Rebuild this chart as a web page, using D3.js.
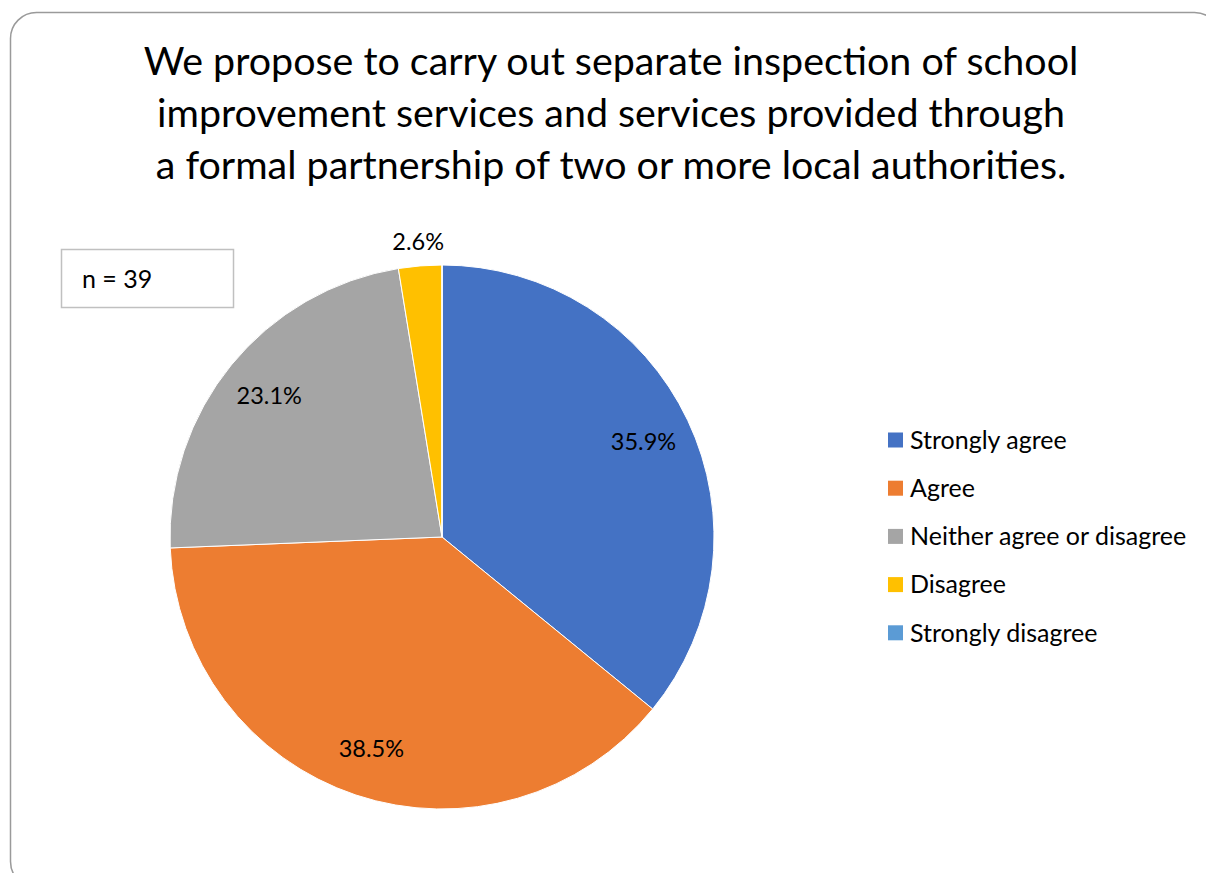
<!DOCTYPE html>
<html>
<head>
<meta charset="utf-8">
<script src="https://cdn.jsdelivr.net/npm/d3@7"></script>
<style>
  body { margin: 0; background: #fff; }
  svg text { font-family: Lato, "Open Sans", sans-serif; fill: #000; }
</style>
</head>
<body>
<script>
// survey answers (n = 39)
var categories = ['Strongly agree','Agree','Neither agree or disagree','Disagree','Strongly disagree'];
var counts = [14, 15, 9, 1, 0];
var colors = ['#4472C4','#ED7D31','#A5A5A5','#FFC000','#5B9BD5'];
var titleLines = ['We propose to carry out separate inspection of school',
                  'improvement services and services provided through',
                  'a formal partnership of two or more local authorities.'];
var sampleText = 'n = 39';

var width = 1206, height = 873;
var cx = 442, cy = 537, radius = 272;

var svg = d3.select("body").append("svg")
    .attr("width", width)
    .attr("height", height);

// outer frame
svg.append("rect")
    .attr("x", 10.5).attr("y", 12.5)
    .attr("width", 1210).attr("height", 875)
    .attr("rx", 26).attr("ry", 26)
    .attr("fill", "none")
    .attr("stroke", "#9a9a9a")
    .attr("stroke-width", 1.5);

// title
svg.append("g").selectAll("text")
    .data(titleLines)
    .enter().append("text")
    .attr("x", 611)
    .attr("y", function(d, i){ return 75 + i * 52; })
    .attr("text-anchor", "middle")
    .style("font-size", "39.4px")
    .text(function(d){ return d; });

// n box
svg.append("rect")
    .attr("x", 61.5).attr("y", 249.5)
    .attr("width", 172).attr("height", 58)
    .attr("fill", "#fff")
    .attr("stroke", "#c0c0c0")
    .attr("stroke-width", 1.5);
svg.append("text")
    .attr("x", 82).attr("y", 288)
    .style("font-size", "25px")
    .text(sampleText);

var total = d3.sum(counts);
var pie = d3.pie().sort(null).value(function(d){ return d; });
var arcs = pie(counts);

var arc = d3.arc().innerRadius(0).outerRadius(radius);
var labelArc = d3.arc().innerRadius(radius * 0.82).outerRadius(radius * 0.82);
var outerArc = d3.arc().innerRadius(radius + 24).outerRadius(radius + 24);

var chartGroup = svg.append("g")
    .attr("transform", "translate(" + cx + "," + cy + ")");

chartGroup.selectAll("path")
    .data(arcs)
    .enter().append("path")
    .attr("d", arc)
    .attr("fill", function(d, i){ return colors[i]; })
    .attr("stroke", "#fff")
    .attr("stroke-width", 1);

var fmt = d3.format(".1%");
chartGroup.selectAll("text.lbl")
    .data(arcs.filter(function(d){ return d.value > 0; }))
    .enter().append("text")
    .attr("class", "lbl")
    .attr("transform", function(d){
        var small = d.value / total < 0.05;
        var p = small ? outerArc.centroid(d) : labelArc.centroid(d);
        return "translate(" + p[0] + "," + p[1] + ")";
    })
    .attr("text-anchor", "middle")
    .attr("dy", "0.35em")
    .style("font-size", "23.5px")
    .text(function(d){ return fmt(d.value / total); });

// legend
var legend = svg.append("g").attr("transform", "translate(888,440)");
var rows = legend.selectAll("g")
    .data(categories)
    .enter().append("g")
    .attr("transform", function(d, i){ return "translate(0," + (i * 48.2) + ")"; });
rows.append("rect")
    .attr("x", 0).attr("y", -7.5)
    .attr("width", 15).attr("height", 15)
    .attr("fill", function(d, i){ return colors[i]; });
rows.append("text")
    .attr("x", 22).attr("dy", "0.35em")
    .style("font-size", "25px")
    .text(function(d){ return d; });
</script>
</body>
</html>
